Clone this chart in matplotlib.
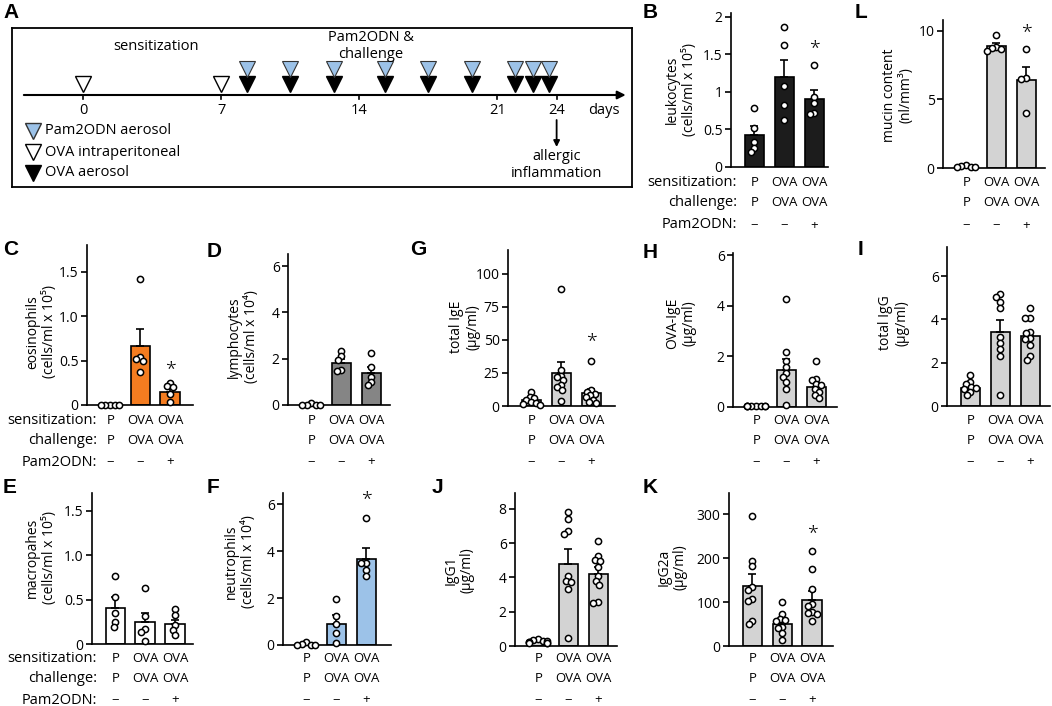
import matplotlib.pyplot as plt
from matplotlib import transforms
import numpy as np

plt.rcParams['font.family'] = ['Open Sans', 'DejaVu Sans']
plt.rcParams['font.size'] = 10

W, H = 1052, 706

# ---------------- data ----------------
sens = ['P', 'OVA', 'OVA']
chal = ['P', 'OVA', 'OVA']
pam = ['−', '−', '+']
row_names = ['sensitization:', 'challenge:', 'Pam2ODN:']

tick_days = [0, 7, 14, 21, 24]
ip_days = [0, 7]
aerosol_days = [8.3, 10.5, 12.7, 15.3, 17.5, 19.7, 21.9, 22.8, 23.6]
legend_items = ['Pam2ODN aerosol', 'OVA intraperitoneal', 'OVA aerosol']

leuko_mean = [0.42, 1.2, 0.9]
leuko_sem = [0.12, 0.23, 0.12]
leuko_pts = [[0.78, 0.52, 0.33, 0.25, 0.2],
             [1.86, 1.62, 1.08, 0.83, 0.63],
             [1.36, 0.93, 0.85, 0.72, 0.7]]

mucin_mean = [0.1, 8.9, 6.45]
mucin_sem = [0.03, 0.2, 0.95]
mucin_pts = [[0.2, 0.15, 0.1, 0.05, 0.05],
             [9.7, 8.85, 8.75, 8.7, 8.55],
             [8.7, 6.55, 6.5, 4.05]]

eos_mean = [0.0, 0.66, 0.15]
eos_sem = [0.0, 0.19, 0.04]
eos_pts = [[0, 0, 0, 0, 0],
           [1.42, 0.54, 0.52, 0.49, 0.37],
           [0.25, 0.21, 0.2, 0.12, 0.03]]

lym_mean = [0.04, 1.82, 1.38]
lym_sem = [0.02, 0.18, 0.27]
lym_pts = [[0.1, 0.02, 0.02, 0.02, 0.02],
           [2.34, 2.12, 1.95, 1.5, 1.45],
           [2.25, 1.65, 1.22, 1.0, 0.86]]

mac_mean = [0.4, 0.245, 0.22]
mac_sem = [0.13, 0.105, 0.05]
mac_pts = [[0.765, 0.53, 0.35, 0.25, 0.195],
           [0.63, 0.31, 0.165, 0.13, 0.03],
           [0.39, 0.33, 0.21, 0.16, 0.1]]

neu_mean = [0.04, 0.9, 3.68]
neu_sem = [0.02, 0.37, 0.44]
neu_pts = [[0.12, 0.06, 0.02, 0.01, 0.01],
           [1.96, 1.25, 0.9, 0.53, 0.07],
           [5.4, 3.49, 3.49, 3.2, 2.92]]

ige_mean = [4.3, 25.0, 10.1]
ige_sem = [1.1, 8.4, 3.1]
ige_pts = [[10.5, 7, 6, 4.5, 3, 2.5, 1.5, 1],
           [88.6, 27, 23, 22, 19.5, 15.7, 14.4, 12, 3.8],
           [34, 11.9, 10.6, 9.4, 8.1, 6.8, 4.8, 3, 2]]

ovaige_mean = [0.03, 1.48, 0.79]
ovaige_sem = [0.005, 0.4, 0.14]
ovaige_pts = [[0.05, 0.04, 0.04, 0.03, 0.03, 0.02, 0.02, 0.02],
              [4.26, 2.18, 1.82, 1.58, 1.35, 1.19, 1.0, 0.7, 0.07],
              [1.82, 1.12, 1.05, 0.92, 0.86, 0.73, 0.59, 0.46, 0.36]]

igg_mean = [0.85, 3.43, 3.23]
igg_sem = [0.16, 0.54, 0.2]
igg_pts = [[1.45, 1.11, 1.0, 0.88, 0.83, 0.8, 0.65, 0.49],
           [5.15, 5.05, 4.78, 4.54, 3.2, 2.92, 2.65, 2.3, 0.49],
           [4.54, 4.07, 4.07, 3.43, 3.38, 3.12, 3.08, 2.81, 2.31, 2.14]]

igg1_mean = [0.25, 4.8, 4.2]
igg1_sem = [0.03, 0.86, 0.39]
igg1_pts = [[0.4, 0.35, 0.3, 0.3, 0.25, 0.25, 0.2, 0.2, 0.15],
            [7.82, 7.41, 6.69, 6.54, 4.06, 3.8, 3.73, 3.32, 0.49],
            [6.15, 5.23, 5.0, 4.94, 4.59, 4.06, 3.8, 3.57, 2.54, 2.5]]

igg2a_mean = [137, 50, 105]
igg2a_sem = [26, 9, 21]
igg2a_pts = [[296, 194, 182, 135, 128, 106, 102, 57, 49],
             [99, 72, 61.5, 59, 58, 44, 40, 29, 14],
             [215, 175, 130, 95, 90, 78, 74, 72, 57]]

fig = plt.figure(figsize=(W / 100, H / 100), dpi=100)


def fx(x):
    return x / W


def fy(y):
    return 1 - y / H


def swarm(ax, vals, d=5.0, lim=0.3):
    # simple beeswarm: offsets in data units so circles don't pile up
    bb = ax.get_window_extent()
    xl, yl = ax.get_xlim(), ax.get_ylim()
    px = bb.width / (xl[1] - xl[0])
    py = bb.height / (yl[1] - yl[0])
    ys = np.asarray(vals, float) * py
    offs = np.zeros(len(ys))
    placed = []
    for i in np.argsort(-ys, kind='stable'):
        bad = []
        for xo, yo in placed:
            dy = abs(ys[i] - yo)
            if dy < d:
                w = np.sqrt(d * d - dy * dy)
                bad.append((xo - w, xo + w))
        cands = [0.0] + [b for iv in bad for b in iv]
        cands.sort(key=abs)
        for c in cands:
            if all(not (lo + 1e-6 < c < hi - 1e-6) for lo, hi in bad):
                offs[i] = c
                break
        placed.append((offs[i], ys[i]))
    return np.clip(offs / px, -lim, lim)


def bar_panel(geo, mean, sem, pts, color, ticks, ticklabels, ylabel, ylab_pos,
              letter, letter_pos, rows_y, star=None, label_right=None, lab_size=10):
    x0, x1, ytop, yzero, ymax = geo
    ax = fig.add_axes([fx(x0), fy(yzero), (x1 - x0) / W, (yzero - ytop) / H])
    ax.set_xlim(-0.78, -0.78 + (x1 - x0) / 30)
    ax.set_ylim(0, ymax)
    xs = np.arange(3)
    ax.bar(xs, mean, width=0.66, color=color, edgecolor='black', lw=1.2, zorder=2)
    ax.errorbar(xs, mean, yerr=[np.zeros(3), sem], fmt='none', ecolor='black',
                elinewidth=1.2, capsize=3, capthick=1.2, zorder=3)
    for i in range(3):
        off = swarm(ax, pts[i])
        ax.scatter(i + off, pts[i], s=20, facecolor='white', edgecolor='black',
                   lw=1.1, zorder=4, clip_on=False)
    for s in ['top', 'right']:
        ax.spines[s].set_visible(False)
    for s in ['left', 'bottom']:
        ax.spines[s].set_linewidth(1.2)
    ax.set_xticks([])
    ax.set_yticks(ticks, ticklabels)
    ax.tick_params(axis='y', length=4, width=1.2, pad=2, labelsize=10)
    if star is not None:
        ax.text(star[0], star[1], '*', ha='center', va='center', fontsize=14,
                fontweight='light')
    fig.text(fx(ylab_pos[0]), fy(ylab_pos[1]), ylabel, rotation=90, ha='center',
             va='center', fontsize=lab_size, linespacing=1.15)
    fig.text(fx(letter_pos[0]), fy(letter_pos[1]), letter, ha='left', va='top',
             fontsize=15, fontweight='bold', family='Liberation Sans')
    tr = transforms.blended_transform_factory(ax.transData, fig.transFigure)
    for labels, ry in zip([sens, chal, pam], rows_y):
        for i, t in enumerate(labels):
            ax.text(i, fy(ry), t, transform=tr, ha='center', va='center', fontsize=9.5)
    if label_right is not None:
        for name, ry in zip(row_names, rows_y):
            fig.text(fx(label_right), fy(ry), name, ha='right', va='center', fontsize=10.5)
    return ax


rows_top = (182, 203, 225)
rows_mid = (421, 441, 462)
rows_bot = (659, 679, 700)

orange = '#f47c20'
dgray = '#858585'
lgray = '#d3d3d3'
blue = '#9cc2e8'
black = '#1c1c1c'

# B
bar_panel((731, 828, 13, 167, 2.05), leuko_mean, leuko_sem, leuko_pts, black,
          [0, 0.5, 1, 1.5, 2], ['0', '0.5', '1', '1.5', '2'],
          'leukocytes\n(cells/ml x 10⁵)', (681, 90), 'B', (643, 3), rows_top,
          star=(2, 1.58), label_right=737)
# L
bar_panel((943, 1045, 20, 168, 10.8), mucin_mean, mucin_sem, mucin_pts, lgray,
          [0, 5, 10], ['0', '5', '10'],
          'mucin content\n(nl/mm³)', (898, 95), 'L', (855, 3), rows_top,
          star=(2, 9.9))
# C
bar_panel((87, 193, 245, 405, 1.80), eos_mean, eos_sem, eos_pts, orange,
          [0, 0.5, 1.0, 1.5], ['0', '0.5', '1.0', '1.5'],
          'eosinophils\n(cells/ml x 10⁵)', (41, 332), 'C', (3, 240), rows_mid,
          star=(2, 0.4), label_right=97)
# D
bar_panel((288, 390, 254, 405, 6.52), lym_mean, lym_sem, lym_pts, dgray,
          [0, 2, 4, 6], ['0', '2', '4', '6'],
          'lymphocytes\n(cells/ml x 10⁴)', (243, 337), 'D', (207, 242), rows_mid)
# G
bar_panel((508, 615, 250, 406, 118), ige_mean, ige_sem, ige_pts, lgray,
          [0, 25, 50, 75, 100], ['0', '25', '50', '75', '100'],
          'total IgE\n(µg/ml)', (465, 327), 'G', (410, 240), rows_mid,
          star=(2, 49))
# H
bar_panel((733, 837, 253, 407, 6.08), ovaige_mean, ovaige_sem, ovaige_pts, lgray,
          [0, 2, 4, 6], ['0', '2', '4', '6'],
          'OVA-IgE\n(µg/ml)', (681, 323), 'H', (643, 243), rows_mid)
# I
bar_panel((947, 1050, 247, 406, 7.34), igg_mean, igg_sem, igg_pts, lgray,
          [0, 2, 4, 6], ['0', '2', '4', '6'],
          'total IgG\n(µg/ml)', (894, 323), 'I', (858, 240), rows_mid)
# E
bar_panel((92, 193, 493, 644, 1.70), mac_mean, mac_sem, mac_pts, 'white',
          [0, 0.5, 1.0, 1.5], ['0', '0.5', '1.0', '1.5'],
          'macropahes\n(cells/ml x 10⁵)', (41, 558), 'E', (3, 478), rows_bot,
          label_right=97)
# F
bar_panel((283, 391, 493, 645, 6.47), neu_mean, neu_sem, neu_pts, blue,
          [0, 2, 4, 6], ['0', '2', '4', '6'],
          'neutrophils\n(cells/ml x 10⁴)', (240, 562), 'F', (207, 478), rows_bot,
          star=(2, 6.2))
# J
bar_panel((515, 617, 493, 646, 8.93), igg1_mean, igg1_sem, igg1_pts, lgray,
          [0, 2, 4, 6, 8], ['0', '2', '4', '6', '8'],
          'IgG1\n(µg/ml)', (459, 570), 'J', (432, 478), rows_bot)
# K
bar_panel((729, 833, 493, 646, 348), igg2a_mean, igg2a_sem, igg2a_pts, lgray,
          [0, 100, 200, 300], ['0', '100', '200', '300'],
          'IgG2a\n(µg/ml)', (672, 567), 'K', (643, 478), rows_bot,
          star=(2, 257))

# ---------------- panel A: timeline ----------------
axA = fig.add_axes([fx(12), fy(187), 620 / W, 159 / H])
axA.set_xlim(-3.6, 27.82)
axA.set_ylim(187, 28)
axA.set_xticks([])
axA.set_yticks([])
for s in axA.spines.values():
    s.set_linewidth(1.3)
fig.text(fx(3), fy(3), 'A', ha='left', va='top', fontsize=15, fontweight='bold',
         family='Liberation Sans')

axA.annotate('', xy=(27.5, 95), xytext=(-3.0, 95),
             arrowprops=dict(arrowstyle='-|>', lw=1.5, color='black',
                             mutation_scale=12, shrinkA=0, shrinkB=0))
for d in tick_days:
    axA.plot([d, d], [95, 99], color='black', lw=1.2)
    axA.text(d, 111, str(d), ha='center', va='center', fontsize=10.5)
axA.text(26.4, 111, 'days', ha='center', va='center', fontsize=10.5)

axA.plot(ip_days, [84] * len(ip_days), 'v', ms=11, mfc='white', mec='black', mew=1)
axA.plot(aerosol_days, [84] * len(aerosol_days), 'v', ms=11, mfc='black', mec='black', mew=1)
axA.plot(aerosol_days, [69] * len(aerosol_days), 'v', ms=11, mfc=blue, mec='#333333', mew=0.8)

axA.text(3.7, 46, 'sensitization', ha='center', va='center', fontsize=10.5)
axA.text(14.6, 46, 'Pam2ODN &\nchallenge', ha='center', va='center', fontsize=10.5,
         linespacing=1.1)

leg_y = [131, 152, 173]
leg_style = [dict(mfc=blue, mec='#333333'), dict(mfc='white', mec='black'),
             dict(mfc='black', mec='black')]
for name, ly, st in zip(legend_items, leg_y, leg_style):
    axA.plot([-2.55], [ly], 'v', ms=11, mew=1, **st)
    axA.text(-1.95, ly, name, ha='left', va='center', fontsize=10.5)

axA.annotate('', xy=(24, 147), xytext=(24, 120),
             arrowprops=dict(arrowstyle='-|>', lw=1.3, color='black',
                             mutation_scale=9, shrinkA=0, shrinkB=0))
axA.text(24, 165, 'allergic\ninflammation', ha='center', va='center', fontsize=10.5,
         linespacing=1.2)

fig.savefig('out.png', dpi=100, facecolor='white')
